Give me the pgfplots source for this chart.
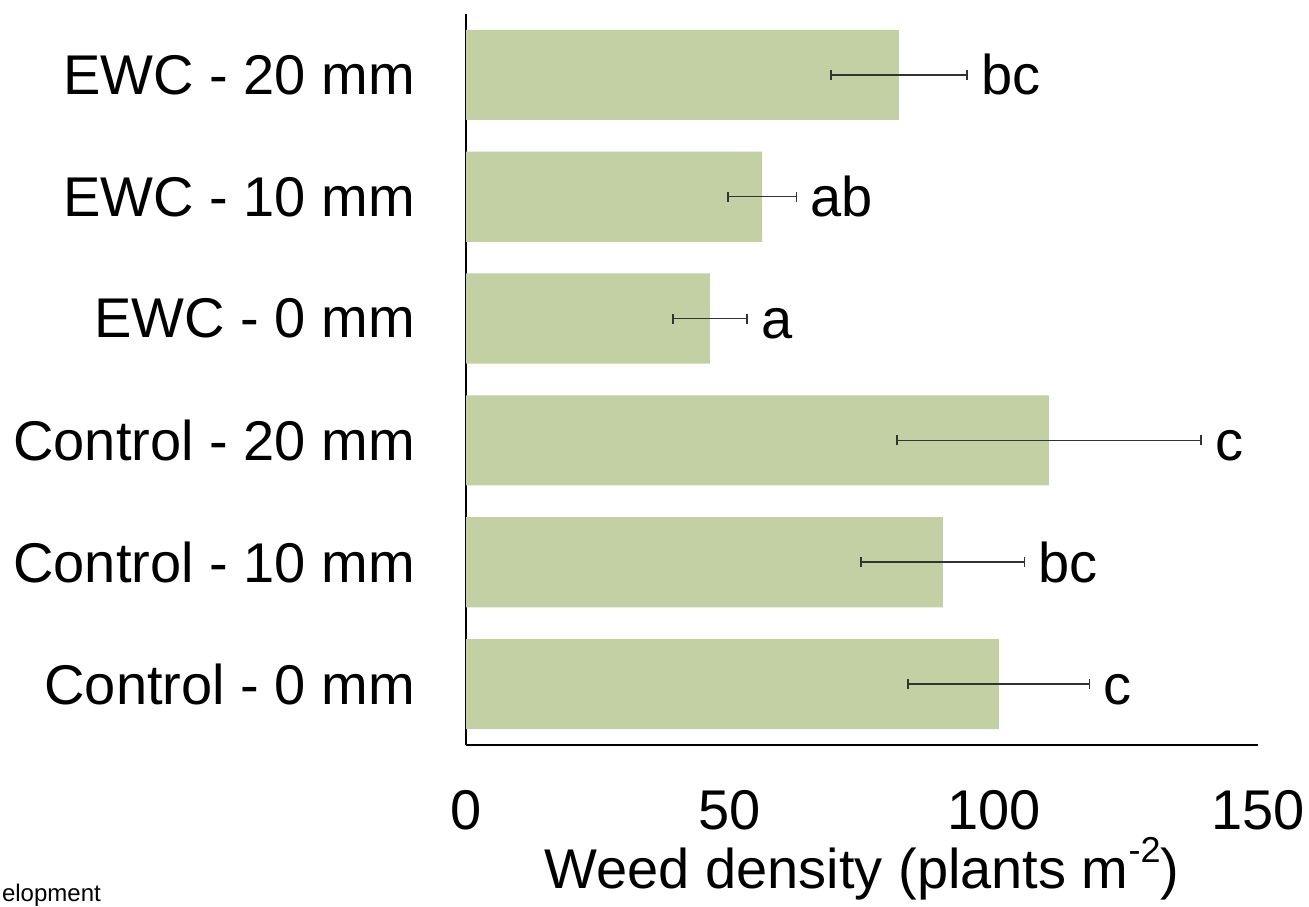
\documentclass[border=0pt]{standalone}
\usepackage{pgfplots}
\pgfplotsset{compat=1.18}
\usepackage{pgfplotstable}
\usepackage{fontspec}
\setmainfont{Liberation Sans}
\definecolor{barc}{HTML}{C3D0A4}
\pgfplotstableread{
pos v e lab
0 100.9 17.2 c
1 90.3 15.5 bc
2 110.4 28.8 c
3 46.2 7.0 a
4 56.1 6.5 ab
5 82.0 12.9 bc
}\data
\newcommand{\bigf}{\fontsize{56bp}{66bp}\selectfont}
\begin{document}
\begin{tikzpicture}
\useasboundingbox (0,0) rectangle (1309bp,907bp);
\begin{axis}[
  at={(466bp,162bp)}, anchor=south west,
  scale only axis, width=792bp, height=731bp,
  xmin=0, xmax=150, ymin=-0.5, ymax=5.5,
  axis lines*=left,
  axis line style={black, line width=1.2bp, -},
  xtick={0,50,100,150}, ytick={0,1,2,3,4,5},
  yticklabels={Control - 0 mm, Control - 10 mm, Control - 20 mm, EWC - 0 mm, EWC - 10 mm, EWC - 20 mm},
  major tick length=0pt,
  tick label style={font=\bigf, inner sep=0pt},
  yticklabel style={anchor=east, xshift=-51bp},
  xticklabel style={anchor=north, yshift=-45bp},
  /pgf/number format/assume math mode=true,
  xlabel={Weed density (plants m\raisebox{0.45em}{\fontsize{36bp}{40bp}\selectfont -2})},
  xlabel style={font=\bigf, at={(axis description cs:0.5,0)}, anchor=base, yshift=-143bp, inner sep=0pt},
  clip=false,
]
\addplot[xbar, bar width=0.74, fill=barc, draw=none,
  error bars/.cd, x dir=both, x explicit, error mark=|,
  error bar style={line width=1.5bp, black!80},
  error mark options={line width=1.5bp, black!80, mark size=5bp}]
  table[x=v, y=pos, x error=e] {\data};
\addplot[draw=none, mark=none, nodes near coords, point meta=explicit symbolic,
  nodes near coords style={anchor=base west, inner sep=0pt, xshift=14bp, yshift=-20bp, font=\bigf, text=black}]
  table[x expr=\thisrow{v}+\thisrow{e}, y=pos, meta=lab] {\data};
\end{axis}
\node[anchor=base east, inner sep=0pt, font=\fontsize{24bp}{28bp}\selectfont] at (101bp,6bp) {elopment};
\end{tikzpicture}
\end{document}
